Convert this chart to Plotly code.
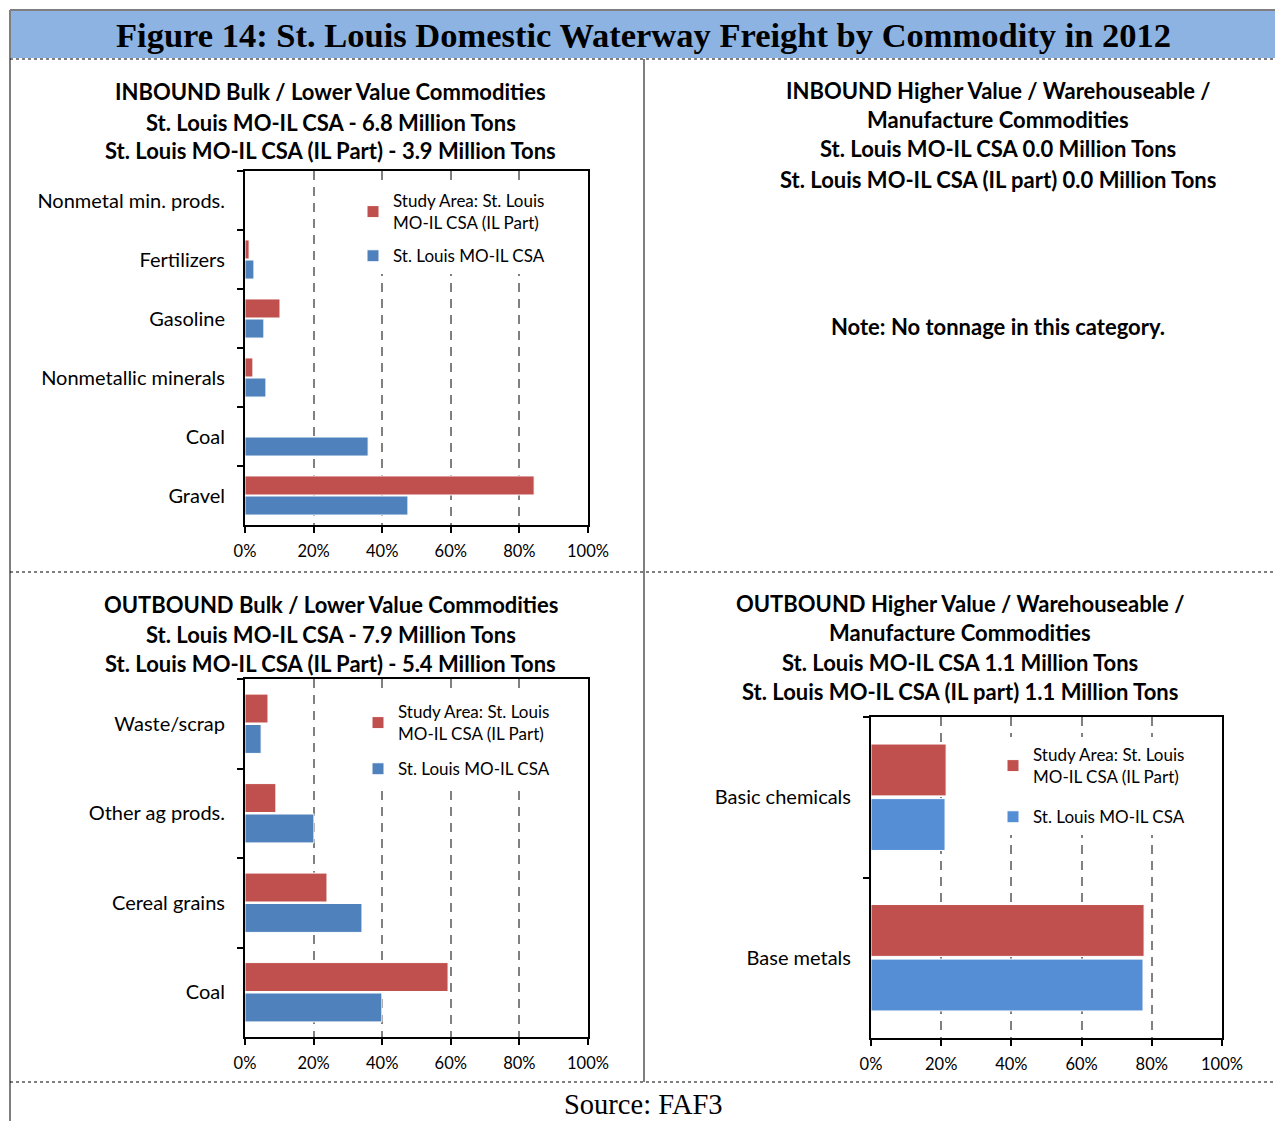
import plotly.graph_objects as go

# ---------------- data ----------------
in_cats = ["Nonmetal min. prods.", "Fertilizers", "Gasoline", "Nonmetallic minerals", "Coal", "Gravel"]
in_il = [0.0, 0.012, 0.102, 0.023, 0.0, 0.843]
in_csa = [0.0, 0.026, 0.055, 0.061, 0.359, 0.475]

out_cats = ["Waste/scrap", "Other ag prods.", "Cereal grains", "Coal"]
out_il = [0.067, 0.090, 0.239, 0.592]
out_csa = [0.047, 0.201, 0.341, 0.399]

hv_cats = ["Basic chemicals", "Base metals"]
hv_il = [0.214, 0.778]
hv_csa = [0.211, 0.775]

series_names = ["Study Area: St. Louis<br>MO-IL CSA (IL Part)", "St. Louis MO-IL CSA"]
x_ticks = [0, 0.2, 0.4, 0.6, 0.8, 1.0]
x_tick_labels = ["0%", "20%", "40%", "60%", "80%", "100%"]

fig_title = "Figure 14: St. Louis Domestic Waterway Freight by Commodity in 2012"
p1_title = ["INBOUND Bulk / Lower Value Commodities",
            "St. Louis MO-IL CSA - 6.8 Million Tons",
            "St. Louis MO-IL CSA (IL Part) - 3.9 Million Tons"]
p2_title = ["INBOUND Higher Value / Warehouseable /",
            "Manufacture Commodities",
            "St. Louis MO-IL CSA 0.0 Million Tons",
            "St. Louis MO-IL CSA (IL part) 0.0 Million Tons"]
p2_note = "Note: No tonnage in this category."
p3_title = ["OUTBOUND Bulk / Lower Value Commodities",
            "St. Louis MO-IL CSA - 7.9 Million Tons",
            "St. Louis MO-IL CSA (IL Part) - 5.4 Million Tons"]
p4_title = ["OUTBOUND Higher Value / Warehouseable /",
            "Manufacture Commodities",
            "St. Louis MO-IL CSA 1.1 Million Tons",
            "St. Louis MO-IL CSA (IL part) 1.1 Million Tons"]
source_text = "Source: FAF3"

# ---------------- styling ----------------
W, H = 1275, 1121
def fx(p):
    return p / W
def fy(p):
    return 1 - p / H

RED = "#C0504D"
BLUE = "#4F81BD"
BLUE2 = "#558ED5"
SANS = "Lato"
SERIF = "Liberation Serif"

fig = go.Figure()

panels = [
    (in_cats, in_il, in_csa, "x", "y", "legend", BLUE),
    (out_cats, out_il, out_csa, "x2", "y2", "legend2", BLUE),
    (hv_cats, hv_il, hv_csa, "x3", "y3", "legend3", BLUE2),
]
for k, (cats, il, csa, xa, ya, lg, bc) in enumerate(panels):
    fig.add_trace(go.Bar(y=cats, x=il, orientation="h", name=series_names[0],
                         marker=dict(color=RED, line=dict(color="white", width=1)),
                         xaxis=xa, yaxis=ya, legend=lg, legendgroup="il%d" % k,
                         hoverinfo="skip"))
    fig.add_trace(go.Bar(y=cats, x=csa, orientation="h", name=series_names[1],
                         marker=dict(color=bc, line=dict(color="white", width=1)),
                         xaxis=xa, yaxis=ya, legend=lg, legendgroup="csa%d" % k,
                         hoverinfo="skip"))

def xaxis_style(domain, anchor):
    return dict(domain=domain, anchor=anchor, range=[0, 1], tickvals=x_ticks, ticktext=x_tick_labels,
                showline=True, mirror=True, linecolor="black", linewidth=2,
                ticks="outside", ticklen=6, tickwidth=2, tickcolor="black",
                showgrid=True, gridcolor="#808080", gridwidth=2, griddash="9px,7px",
                zeroline=False, tickfont=dict(family=SANS, size=16.5, color="black"),
                ticklabelstandoff=4, fixedrange=True, automargin=False)

def yaxis_style(domain, anchor, cats):
    return dict(domain=domain, anchor=anchor, type="category", categoryorder="array",
                categoryarray=cats, autorange="reversed",
                showline=True, mirror=True, linecolor="black", linewidth=2,
                ticks="outside", tickson="boundaries", ticklen=6, tickwidth=2, tickcolor="black",
                showgrid=False, zeroline=False,
                tickfont=dict(family=SANS, size=20, color="black"),
                ticklabelstandoff=14, fixedrange=True, automargin=False)

def legend_style(x, y, gap):
    return dict(x=fx(x), y=fy(y), xanchor="left", yanchor="top", bgcolor="white",
                font=dict(family=SANS, size=17, color="black"), traceorder="grouped",
                tracegroupgap=gap, itemclick=False, itemdoubleclick=False)

fig.update_layout(
    template="plotly_white",
    width=W, height=H, autosize=False,
    margin=dict(l=0, r=0, t=0, b=0, autoexpand=False),
    paper_bgcolor="white", plot_bgcolor="white",
    barmode="group", bargap=0.32, bargroupgap=0.05,
    xaxis=xaxis_style([fx(245), fx(588)], "y"),
    yaxis=yaxis_style([fy(525), fy(171)], "x", in_cats),
    xaxis2=xaxis_style([fx(245), fx(588)], "y2"),
    yaxis2=yaxis_style([fy(1037), fy(679)], "x2", out_cats),
    xaxis3=xaxis_style([fx(871), fx(1222)], "y3"),
    yaxis3=yaxis_style([fy(1038), fy(717)], "x3", hv_cats),
    legend=legend_style(353, 183, 8),
    legend2=legend_style(358, 694, 10),
    legend3=legend_style(993, 737, 15),
    showlegend=True,
)

# ---------------- frame shapes ----------------
shapes = [
    dict(type="rect", xref="paper", yref="paper", x0=fx(10), x1=fx(1275), y0=fy(58), y1=fy(10),
         fillcolor="#8DB3E2", line=dict(width=0), layer="below"),
    dict(type="line", xref="paper", yref="paper", x0=fx(10), x1=fx(1275), y0=fy(10), y1=fy(10),
         line=dict(color="#7F7F7F", width=2)),
    dict(type="line", xref="paper", yref="paper", x0=fx(10), x1=fx(10), y0=fy(10), y1=fy(1121),
         line=dict(color="#7F7F7F", width=2)),
    dict(type="line", xref="paper", yref="paper", x0=fx(644), x1=fx(644), y0=fy(59), y1=fy(1082),
         line=dict(color="#7F7F7F", width=2)),
]
for yy in (59, 572, 1082):
    shapes.append(dict(type="line", xref="paper", yref="paper", x0=fx(10), x1=fx(1275),
                       y0=fy(yy), y1=fy(yy), line=dict(color="black", width=1, dash="dot")))
fig.update_layout(shapes=shapes)

# ---------------- text ----------------
ann = []
def add_text(text, x, y, size, family=SANS, bold=True):
    ann.append(dict(text=("<b>%s</b>" % text) if bold else text, xref="paper", yref="paper",
                    x=fx(x), y=fy(y), xanchor="center", yanchor="middle", showarrow=False,
                    font=dict(family=family, size=size, color="black")))

add_text(fig_title, 643, 35, 34.5, family=SERIF)
for i, t in enumerate(p1_title):
    add_text(t, 331, [92, 122, 151][i], 22)
for i, t in enumerate(p2_title):
    add_text(t, 998, [91, 120, 149, 179][i], 22)
add_text(p2_note, 998, 326, 22)
for i, t in enumerate(p3_title):
    add_text(t, 331, [604, 634, 663][i], 22)
for i, t in enumerate(p4_title):
    add_text(t, 960, [603, 632, 662, 691][i], 22)
add_text(source_text, 643, 1104, 28.5, family=SERIF, bold=False)
fig.update_layout(annotations=ann)

fig.write_html("out.html", config={"displayModeBar": False},
               post_script="document.body.style.margin='0';")
